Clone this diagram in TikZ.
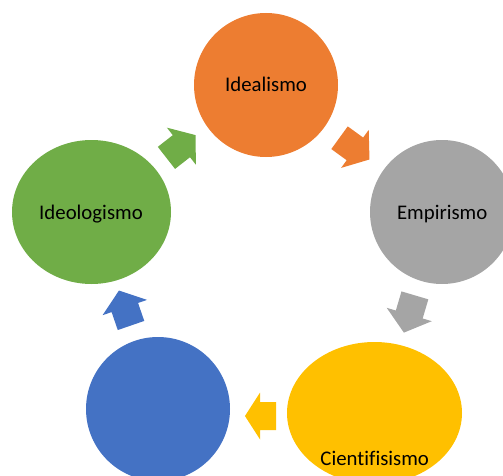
\documentclass[tikz,border=0pt]{standalone}
\usepackage{fontspec}
\setmainfont{Carlito}[Ligatures=NoCommon]
\usetikzlibrary{shapes.geometric}
\definecolor{cOrange}{HTML}{ED7D31}
\definecolor{cGrey}{HTML}{A5A5A5}
\definecolor{cYellow}{HTML}{FFC000}
\definecolor{cBlue}{HTML}{4472C4}
\definecolor{cGreen}{HTML}{70AD47}
\tikzset{
  blob/.style={ellipse, draw=none, inner sep=0pt, minimum width=144pt, minimum height=144pt},
  lbl/.style={anchor=base, inner sep=0pt, font=\fontsize{20.8pt}{24pt}\selectfont, text=black},
  pics/blockarrow/.style={code={
    \path[pic actions] (-18.5,-14) -- (0.5,-14) -- (0.5,-23.5) -- (18.5,0)
      -- (0.5,23.5) -- (0.5,14) -- (-18.5,14) -- cycle;}}
}
\begin{document}
\begin{tikzpicture}[x=1pt,y=1pt]
\useasboundingbox (0,0) rectangle (503,-476);
% circles
\node[blob, fill=cOrange] (idealismo) at (266,-85) {};
\node[blob, fill=cGrey] (empirismo) at (442,-212) {};
\node[blob, fill=cYellow, minimum width=175pt, minimum height=142pt] (cientifisismo) at (374.5,-413) {};
\node[blob, fill=cBlue] (azul) at (158,-409) {};
\node[blob, fill=cGreen, minimum width=159pt] (ideologismo) at (91.5,-212) {};
% labels
\node[lbl] (tIdealismo) at (266,-91.7) {Idealismo};
\node[lbl] (tEmpirismo) at (442.2,-219.3) {Empirismo};
\node[lbl] (tCientifisismo) at (374.7,-465.7) {Cientifisismo};
\node[lbl] (tIdeologismo) at (91,-219) {Ideologismo};
% block arrows
\pic[fill=cOrange, rotate=-36] at (354.5,-148.6) {blockarrow};
\pic[fill=cGrey, rotate=-106.5, xscale=1.05] at (409.4,-314) {blockarrow};
\pic[fill=cYellow, rotate=180, xscale=0.84] at (260.5,-416) {blockarrow};
\pic[fill=cBlue, rotate=109] at (125,-308) {blockarrow};
\pic[fill=cGreen, rotate=38] at (181,-146.5) {blockarrow};
\end{tikzpicture}
\end{document}
